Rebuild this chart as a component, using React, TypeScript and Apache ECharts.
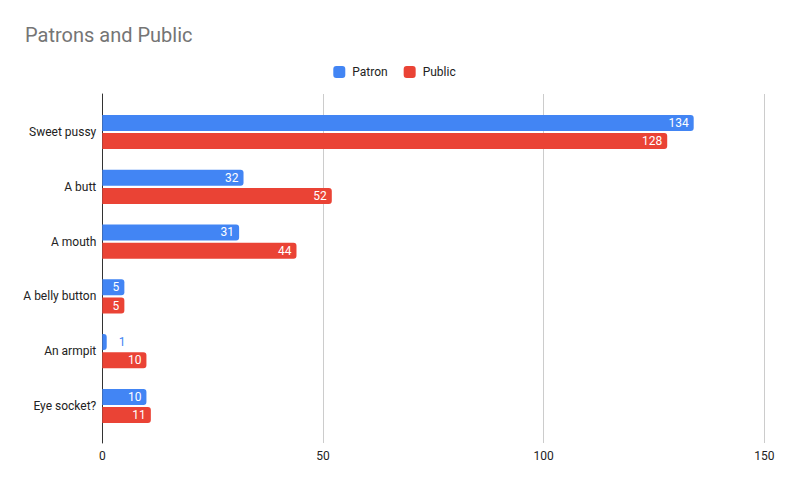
import React, { useEffect, useRef } from "react";
import * as echarts from "echarts";

const categories = ["Sweet pussy", "A butt", "A mouth", "A belly button", "An armpit", "Eye socket?"];
const patronValues = [134, 32, 31, 5, 1, 10];
const publicValues = [128, 52, 44, 5, 10, 11];
const xTicks = { min: 0, max: 150, interval: 50 };

const BLUE = "#4285F4";
const RED = "#EA4335";
const FONT = "Roboto, Arial, sans-serif";

export default function App() {
  const ref = useRef<HTMLDivElement>(null);
  useEffect(() => {
    document.body.style.margin = "0";
    const chart = echarts.init(ref.current!, null, { renderer: "svg" });
    const labelFor = (color: string) => (v: number) =>
      v < 3
        ? { value: v, label: { position: "right", distance: 12, color } }
        : v;
    chart.setOption({
      animation: false,
      textStyle: { fontFamily: FONT },
      title: {
        text: "Patrons and Public",
        left: 25,
        top: 25,
        padding: 0,
        textStyle: { fontSize: 20, fontWeight: "normal", color: "#757575", fontFamily: FONT },
      },
      legend: {
        left: "center",
        top: 61,
        itemWidth: 12,
        itemHeight: 12,
        itemGap: 16,
        icon: "roundRect",
        textStyle: { fontSize: 12, color: "#222", fontFamily: FONT, padding: [0, 0, 0, 2] },
        data: ["Patron", "Public"],
      },
      grid: [
        { left: 102.3, right: 24.7, top: 104.6, height: 328.8 },
        { left: 102.3, right: 24.7, top: 94, height: 349 },
      ],
      xAxis: [
        {
          gridIndex: 0,
          type: "value",
          ...xTicks,
          axisLabel: { show: false },
          axisLine: { show: false },
          axisTick: { show: false },
          splitLine: { show: false },
        },
        {
          gridIndex: 1,
          type: "value",
          ...xTicks,
          axisLabel: { color: "#222", fontSize: 12, margin: 7, fontFamily: FONT },
          axisLine: { show: false },
          axisTick: { show: false },
          splitLine: { show: true, lineStyle: { color: "#cccccc", width: 1 } },
        },
      ],
      yAxis: [
        {
          gridIndex: 0,
          type: "category",
          inverse: true,
          data: categories,
          axisLine: { show: false },
          axisTick: { show: false },
          axisLabel: { color: "#222", fontSize: 12, margin: 6, fontFamily: FONT },
        },
        {
          gridIndex: 1,
          type: "value",
          min: 0,
          max: 1,
          axisLabel: { show: false },
          axisTick: { show: false },
          splitLine: { show: false },
          axisLine: { show: true, onZero: false, lineStyle: { color: "#333", width: 1 } },
        },
      ],
      series: [
        {
          name: "Patron",
          type: "bar",
          xAxisIndex: 0,
          yAxisIndex: 0,
          data: patronValues.map(labelFor(BLUE)),
          barWidth: 16,
          barGap: "14%",
          itemStyle: { color: BLUE, borderRadius: [0, 3, 3, 0] },
          label: {
            show: true,
            position: "insideRight",
            distance: 5,
            color: "#fff",
            fontSize: 12,
            fontFamily: FONT,
          },
        },
        {
          name: "Public",
          type: "bar",
          xAxisIndex: 0,
          yAxisIndex: 0,
          data: publicValues.map(labelFor(RED)),
          barWidth: 16,
          barGap: "14%",
          itemStyle: { color: RED, borderRadius: [0, 3, 3, 0] },
          label: {
            show: true,
            position: "insideRight",
            distance: 5,
            color: "#fff",
            fontSize: 12,
            fontFamily: FONT,
          },
        },
      ],
    });
    return () => chart.dispose();
  }, []);
  return <div ref={ref} style={{ width: 789, height: 487 }} />;
}
